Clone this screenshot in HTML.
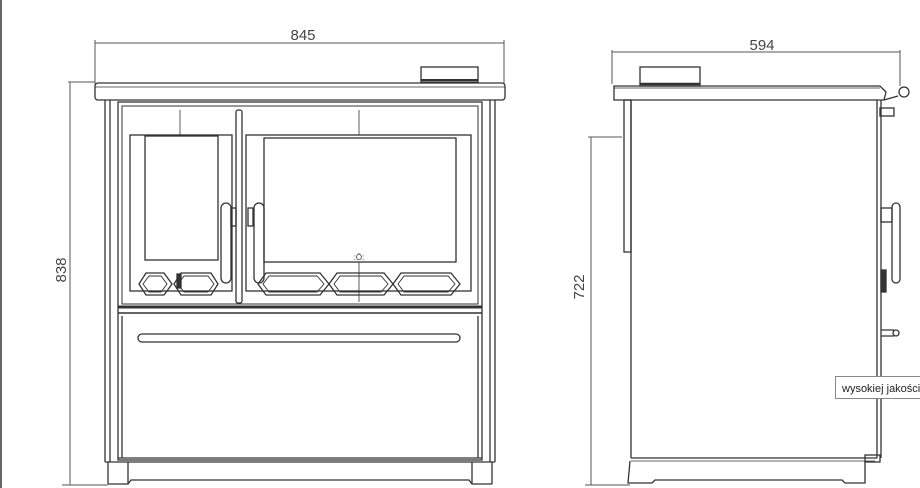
<!DOCTYPE html>
<html><head><meta charset="utf-8"><style>
html,body{margin:0;padding:0;background:#fff;}
svg{display:block;}
</style></head><body>
<svg width="920" height="488" viewBox="0 0 920 488" xmlns="http://www.w3.org/2000/svg" font-family="Liberation Sans, sans-serif">
<rect x="0" y="0" width="2" height="488" fill="#666"/>
<g fill="none" stroke="#555" stroke-width="1">
<!-- FRONT dimension 845 -->
<line x1="95" y1="43" x2="504" y2="43"/>
<line x1="95" y1="40" x2="95" y2="84"/>
<line x1="504" y1="40" x2="504" y2="84"/>
<!-- 838 -->
<line x1="68" y1="82" x2="95" y2="82"/>
<line x1="70" y1="82" x2="70" y2="485"/>
<line x1="62" y1="485" x2="108" y2="485"/>
</g>
<text x="303" y="40" font-size="15" fill="#444" text-anchor="middle">845</text>
<text transform="translate(66,270) rotate(-90)" font-size="15" fill="#444" text-anchor="middle">838</text>

<g fill="none" stroke="#333" stroke-width="1.3">
<!-- top plate -->
<rect x="95" y="83" width="410" height="17" rx="3"/>
<line x1="95" y1="87" x2="505" y2="87" stroke-width="0.8"/>
<rect x="421" y="67" width="57" height="15"/>
<line x1="421" y1="80" x2="478" y2="80" stroke-width="2"/>
<!-- body -->
<line x1="105" y1="100" x2="105" y2="462"/>
<line x1="110" y1="100" x2="110" y2="462"/>
<line x1="495" y1="100" x2="495" y2="462"/>
<line x1="490" y1="100" x2="490" y2="462"/>
<rect x="118" y="102" width="364" height="358"/>
<rect x="122" y="106" width="356" height="198" stroke-width="1"/>
<line x1="118" y1="307" x2="482" y2="307" stroke-width="3"/>
<line x1="118" y1="313" x2="482" y2="313" stroke-width="1.5"/>
<line x1="122" y1="316" x2="122" y2="458"/>
<line x1="478" y1="316" x2="478" y2="458"/>
<line x1="118" y1="458" x2="482" y2="458"/>
<!-- base -->
<line x1="105" y1="462" x2="495" y2="462"/>
<path d="M108 462 V484 M128 462 V484 M108 484 H128 L131 480 H469 L472 484 H492 M472 462 V484 M492 462 V484"/>
<!-- center post -->
<rect x="236" y="110" width="6" height="193" rx="2"/>
<!-- left door -->
<rect x="130" y="135" width="102" height="156"/>
<rect x="145" y="136" width="73" height="124"/>
<line x1="180" y1="110" x2="180" y2="135" stroke-width="0.8"/>
<!-- right door -->
<rect x="246" y="135" width="225" height="156"/>
<rect x="264" y="138" width="192" height="124"/>
<line x1="359" y1="110" x2="359" y2="135" stroke-width="0.8"/>
<line x1="359" y1="262" x2="359" y2="302" stroke-width="0.8"/>
<!-- handles -->
<rect x="221" y="203" width="10" height="80" rx="5"/>
<rect x="254" y="203" width="10" height="80" rx="5"/>
<rect x="231" y="208" width="5" height="18"/>
<rect x="248" y="208" width="5" height="18"/>
<!-- hexagons -->
<path d="M139 284 L146 273 H164 L172 284 L164 295 H146 Z"/>
<path d="M143 284 L149 276 H161 L167 284 L161 292 H149 Z" stroke-width="0.9"/>
<path d="M174 284 L181 273 H211 L218 284 L211 295 H181 Z"/>
<path d="M178 284 L184 276 H208 L214 284 L208 292 H184 Z" stroke-width="0.9"/>
<rect x="177" y="274" width="4" height="14" fill="#333"/>
<path d="M258 284 L266 273 H320 L329 284 L320 295 H266 Z"/>
<path d="M263 284 L269 276 H317 L324 284 L317 292 H269 Z" stroke-width="0.9"/>
<path d="M329 284 L337 273 H384 L393 284 L384 295 H337 Z"/>
<path d="M334 284 L340 276 H381 L388 284 L381 292 H340 Z" stroke-width="0.9"/>
<path d="M393 284 L401 273 H451 L460 284 L451 295 H401 Z"/>
<path d="M398 284 L404 276 H448 L455 284 L448 292 H404 Z" stroke-width="0.9"/>
<!-- lower handle bar -->
<rect x="138" y="334" width="322" height="8" rx="4"/>
</g>
<text x="359" y="260" font-size="8" fill="#333" text-anchor="middle">:Ö:</text>

<!-- SIDE VIEW -->
<g fill="none" stroke="#555" stroke-width="1">
<line x1="612" y1="52" x2="900" y2="52"/>
<line x1="612" y1="50" x2="612" y2="84"/>
<line x1="900" y1="50" x2="900" y2="86"/>
<line x1="588" y1="137" x2="622" y2="137"/>
<line x1="591" y1="137" x2="591" y2="485"/>
<line x1="585" y1="485" x2="630" y2="485"/>
</g>
<text x="762" y="50" font-size="15" fill="#444" text-anchor="middle">594</text>
<text transform="translate(584,287) rotate(-90)" font-size="15" fill="#444" text-anchor="middle">722</text>
<g fill="none" stroke="#333" stroke-width="1.3">
<rect x="640" y="67" width="60" height="19"/>
<line x1="640" y1="84" x2="700" y2="84" stroke-width="2.5"/>
<path d="M614 86 H880 L886 92 L884 100 H614 Z"/>
<line x1="614" y1="88" x2="880" y2="88" stroke-width="0.8"/>
<circle cx="904" cy="92" r="5"/>
<path d="M884 100 L898 96"/>
<rect x="880" y="108" width="14" height="8"/>
<!-- front door edge -->
<rect x="624" y="100" width="7" height="152"/>
<line x1="631" y1="100" x2="631" y2="458"/>
<line x1="877" y1="100" x2="877" y2="458"/>
<line x1="881" y1="100" x2="881" y2="458"/>
<line x1="631" y1="458" x2="877" y2="458"/>
<line x1="631" y1="461" x2="875" y2="461" stroke-width="0.8"/>
<path d="M630 461 L628 483 H652 L655 480 H842 L845 483 H865 V461"/>
<rect x="865" y="455" width="15" height="7"/>
<!-- side handle -->
<rect x="892" y="203" width="8" height="80" rx="4"/>
<rect x="881" y="208" width="11" height="14"/>
<rect x="881" y="270" width="5" height="22" fill="#333"/>
<path d="M881 330 H894 M881 336 H894"/>
<circle cx="896" cy="333" r="3"/>
</g>
<rect x="835.5" y="376.5" width="90" height="22" fill="#fff" stroke="#888"/>
<text x="842" y="392" font-size="11" fill="#222">wysokiej jakości</text>
</svg>
</body></html>
